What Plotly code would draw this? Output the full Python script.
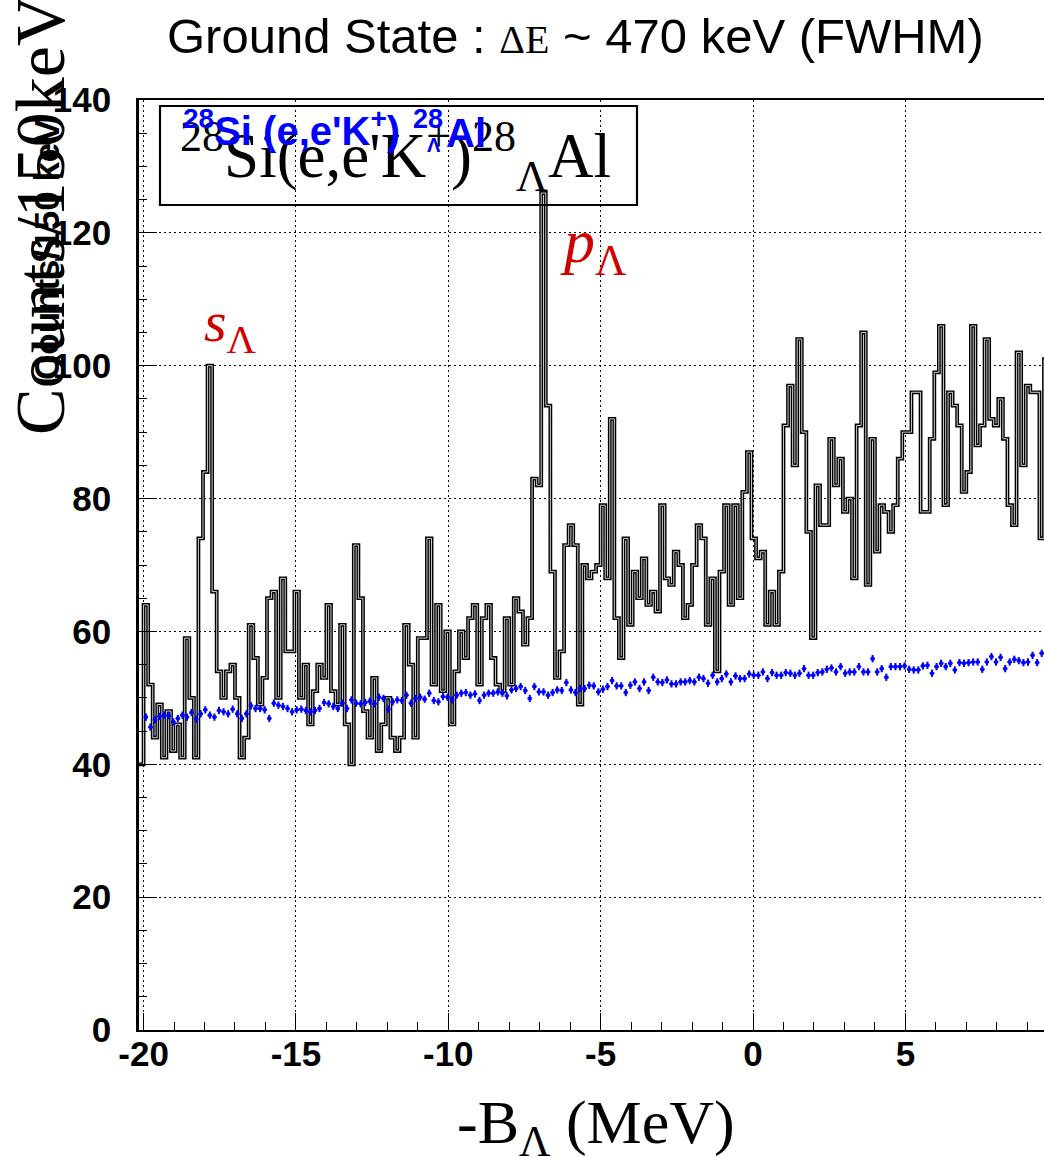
import plotly.graph_objects as go

# ---------------- data ----------------
BIN_WIDTH = 0.15          # MeV (150 keV)
COUNTS_START = -20.15     # lower edge of the first histogram bin
BKG_START = -20.0         # lower edge of the first background bin

# counts per 150 keV bin, 28Si(e,e'K+)28_Lambda Al
counts = [
    40,
    64, 52, 44, 49, 41, 48, 42, 46, 41, 59,
    50, 41, 74, 84, 100, 66, 54, 50, 54, 55,
    50, 41, 44, 61, 56, 49, 53, 65, 66, 50,
    68, 57, 57, 66, 50, 55, 46, 51, 55, 53,
    64, 51, 49, 61, 46, 40, 73, 65, 48, 44,
    53, 42, 46, 50, 44, 42, 44, 61, 55, 44,
    59, 59, 74, 52, 64, 51, 60, 46, 54, 60,
    56, 62, 64, 52, 62, 64, 56, 52, 51, 62,
    52, 65, 63, 58, 62, 83, 82, 126, 94, 69,
    53, 57, 73, 76, 73, 49, 70, 68, 69, 70,
    79, 68, 92, 62, 56, 74, 61, 69, 65, 71,
    64, 66, 63, 79, 68, 67, 72, 70, 62, 64,
    70, 76, 74, 61, 68, 54, 69, 79, 64, 79,
    65, 81, 87, 74, 71, 72, 61, 66, 61, 69,
    91, 97, 85, 104, 90, 75, 59, 82, 76, 76,
    89, 82, 86, 78, 80, 68, 91, 105, 67, 89,
    72, 79, 78, 75, 79, 86, 90, 90, 96, 96,
    78, 78, 89, 99, 106, 79, 96, 94, 91, 81,
    84, 106, 88, 91, 104, 92, 91, 95, 89, 79,
    76, 102, 85, 97, 96, 96, 74, 101,
]

# accidental-coincidence background estimate, same bin width
background = [
    47.1, 45.6, 46.7, 47.2, 47.4, 47.3, 46.4, 46.9, 47.4, 47.1,
    47.8, 46.8, 47.6, 48.2, 47.4, 47.1, 48.1, 47.9, 47.6, 48.3,
    47.6, 46.9, 47.6, 48.8, 48.4, 48.4, 48.2, 46.9, 49.2, 48.9,
    48.7, 48.4, 47.9, 48.2, 48.3, 48.1, 47.9, 48.1, 48.4, 49.3,
    49.1, 48.7, 48.4, 49.2, 48.4, 49.7, 49.2, 49.1, 49.3, 49.5,
    49.1, 50.1, 49.9, 48.3, 49.4, 49.7, 49.6, 50.4, 49.2, 49.9,
    50.1, 49.8, 50.7, 49.6, 49.4, 50.2, 50.1, 49.7, 50.4, 50.7,
    50.8, 50.4, 50.6, 49.6, 50.4, 50.7, 50.7, 50.9, 50.7, 50.3,
    51.2, 51.4, 51.7, 51.1, 49.9, 51.7, 50.9, 50.9, 50.4, 50.8,
    51.2, 51.1, 52.3, 51.2, 50.8, 51.4,
    51.4, 51.9, 51.8, 50.9, 51.3, 51.7, 52.6, 51.8, 51.8, 50.8,
    51.9, 52.4, 51.4, 52.4, 51.1, 53.1, 52.4, 52.3, 52.7, 52.1,
    52.1, 52.4, 52.4, 52.6, 52.4, 53.1, 52.9, 52.2, 53.4, 52.4,
    52.9, 53.6, 52.4, 53.3, 52.9, 52.9, 53.6, 53.4, 53.4, 53.9,
    52.9, 53.8, 53.4, 53.4, 53.8, 53.7, 53.4, 53.7, 54.4, 53.4,
    53.4, 53.8, 53.9, 54.3, 54.5, 53.9, 54.7, 53.7, 53.9, 53.9,
    54.7, 53.9, 53.9, 55.9, 53.9, 54.4, 53.1, 54.7, 54.7, 54.7,
    54.8, 54.3, 54.2, 54.2, 54.8, 54.9, 53.7, 54.7, 55.2, 54.7,
    55.2, 54.2, 55.3, 55.2, 55.3, 55.4, 55.4, 54.3, 55.4, 56.2,
    55.4, 56.1, 54.4, 55.4, 55.8, 55.6, 55.3, 55.4, 56.4, 55.3,
    56.7,
]
background_err = 0.55

x_ticks = [-20, -15, -10, -5, 0, 5]
y_ticks = [0, 20, 40, 60, 80, 100, 120, 140]

# ---------------- geometry helpers ----------------
W, H = 1044, 1157
PL, PR, PT, PB = 139, 1044, 100, 1030


def fx(px):
    return (px - PL) / (PR - PL)


def fy(py):
    return (PB - py) / (PB - PT)


# histogram outline as a step line through the bin edges
edges = [COUNTS_START + BIN_WIDTH * i for i in range(len(counts) + 1)]
step_x = edges
step_y = counts + [counts[-1]]
centers = [BKG_START + BIN_WIDTH * (i + 0.5) for i in range(len(background))]

fig = go.Figure()

# hollow-looking stroke: thick black line with a thin white core
fig.add_trace(go.Scatter(x=step_x, y=step_y, mode="lines",
                         line=dict(shape="hv", color="black", width=3.8),
                         hoverinfo="skip", showlegend=False))
fig.add_trace(go.Scatter(x=step_x, y=step_y, mode="lines",
                         line=dict(shape="hv", color="white", width=0.8),
                         hoverinfo="skip", showlegend=False))

fig.add_trace(go.Scatter(
    x=centers, y=background, mode="markers",
    marker=dict(color="#0000ff", size=4.2),
    error_y=dict(type="constant", value=background_err, color="#0000ff",
                 thickness=2, width=0),
    error_x=dict(type="constant", value=BIN_WIDTH / 2, color="#0000ff",
                 thickness=2, width=0),
    showlegend=False))

tick_font = dict(family="Liberation Sans", size=35, color="black", weight="bold")

fig.update_layout(
    width=W, height=H,
    margin=dict(l=PL, r=W - PR, t=PT, b=H - PB, pad=0),
    paper_bgcolor="white", plot_bgcolor="white",
    showlegend=False,
    xaxis=dict(
        range=[-20.15, 9.55], tickvals=x_ticks, ticktext=[str(v) for v in x_ticks],
        ticks="inside", ticklen=17, tickwidth=1.2, tickcolor="black",
        minor=dict(dtick=1, tick0=0, ticks="inside", ticklen=8, tickwidth=1.2,
                   tickcolor="black", showgrid=False),
        showgrid=True, gridcolor="black", gridwidth=1, griddash="2px,3px",
        showline=True, linecolor="black", linewidth=2, mirror=True,
        zeroline=False, tickfont=tick_font, ticklabelstandoff=-8,
    ),
    yaxis=dict(
        range=[0, 140], tickvals=y_ticks, ticktext=[str(v) for v in y_ticks],
        ticks="inside", ticklen=18, tickwidth=1.2, tickcolor="black",
        minor=dict(dtick=5, tick0=0, ticks="inside", ticklen=8, tickwidth=1.2,
                   tickcolor="black", showgrid=False),
        showgrid=True, gridcolor="black", gridwidth=1, griddash="2px,3px",
        showline=True, linecolor="black", linewidth=2.5,
        zeroline=False, tickfont=tick_font, ticklabelstandoff=18,
    ),
)

# reaction label box (no fill, grid shows through)
fig.add_shape(type="rect", xref="paper", yref="paper",
              x0=fx(160), x1=fx(637), y0=fy(205), y1=fy(106),
              line=dict(color="black", width=2.2), fillcolor="rgba(0,0,0,0)")

serif = "Liberation Serif"
sans = "Liberation Sans"
ann = []

# title line
ann.append(dict(
    x=fx(575), y=fy(7), xanchor="center", yanchor="top",
    text="Ground State : <span style='font-family:Liberation Serif;font-size:40px'>ΔE</span> ~ 470 keV (FWHM)",
    font=dict(family=sans, size=49, color="black")))

# large serif reaction label
ann.append(dict(
    x=fx(178), y=fy(110), xanchor="left", yanchor="top",
    text="<sup>28</sup>Si(e,e'K<sup>+</sup>)<sup>28</sup><sub>Λ</sub>Al",
    font=dict(family=serif, size=63, color="black")))

# bold blue reaction label
ann.append(dict(
    x=fx(181), y=fy(101), xanchor="left", yanchor="top",
    text="<sup>28</sup>Si (e,e'K<sup>+</sup>)",
    font=dict(family=sans, size=40, color="#0000ff", weight="bold")))
ann.append(dict(x=fx(411), y=fy(102), xanchor="left", yanchor="top", text="28",
                font=dict(family=sans, size=27, color="#0000ff", weight="bold")))
ann.append(dict(x=fx(425), y=fy(132), xanchor="left", yanchor="top", text="Λ",
                font=dict(family=sans, size=20, color="#0000ff", weight="bold")))
ann.append(dict(x=fx(444), y=fy(109), xanchor="left", yanchor="top", text="Al",
                font=dict(family=sans, size=40, color="#0000ff", weight="bold")))

# peak labels
ann.append(dict(x=fx(202), y=fy(287), xanchor="left", yanchor="top",
                text="<i>s</i><sub>Λ</sub>",
                font=dict(family=serif, size=58, color="#d00000")))
ann.append(dict(x=fx(558), y=fy(205), xanchor="left", yanchor="top",
                text="<i>p</i><sub>Λ</sub>",
                font=dict(family=serif, size=62, color="#d00000")))

# x-axis title
ann.append(dict(x=fx(596), y=fy(1086), xanchor="center", yanchor="top",
                text="-B<sub>Λ</sub> (MeV)",
                font=dict(family=serif, size=62, color="black")))

# y-axis titles (overprinted)
ann.append(dict(x=fx(40), y=fy(216), xanchor="center", yanchor="middle",
                textangle=-90, text="Counts/150keV",
                font=dict(family=serif, size=70, color="black")))
ann.append(dict(x=fx(47), y=fy(250), xanchor="center", yanchor="middle",
                textangle=-90, text="Counts/150 keV",
                font=dict(family=sans, size=35, color="black", weight="bold")))

for a in ann:
    a.update(xref="paper", yref="paper", showarrow=False)
fig.update_layout(annotations=ann)

fig.write_html("out.html")
